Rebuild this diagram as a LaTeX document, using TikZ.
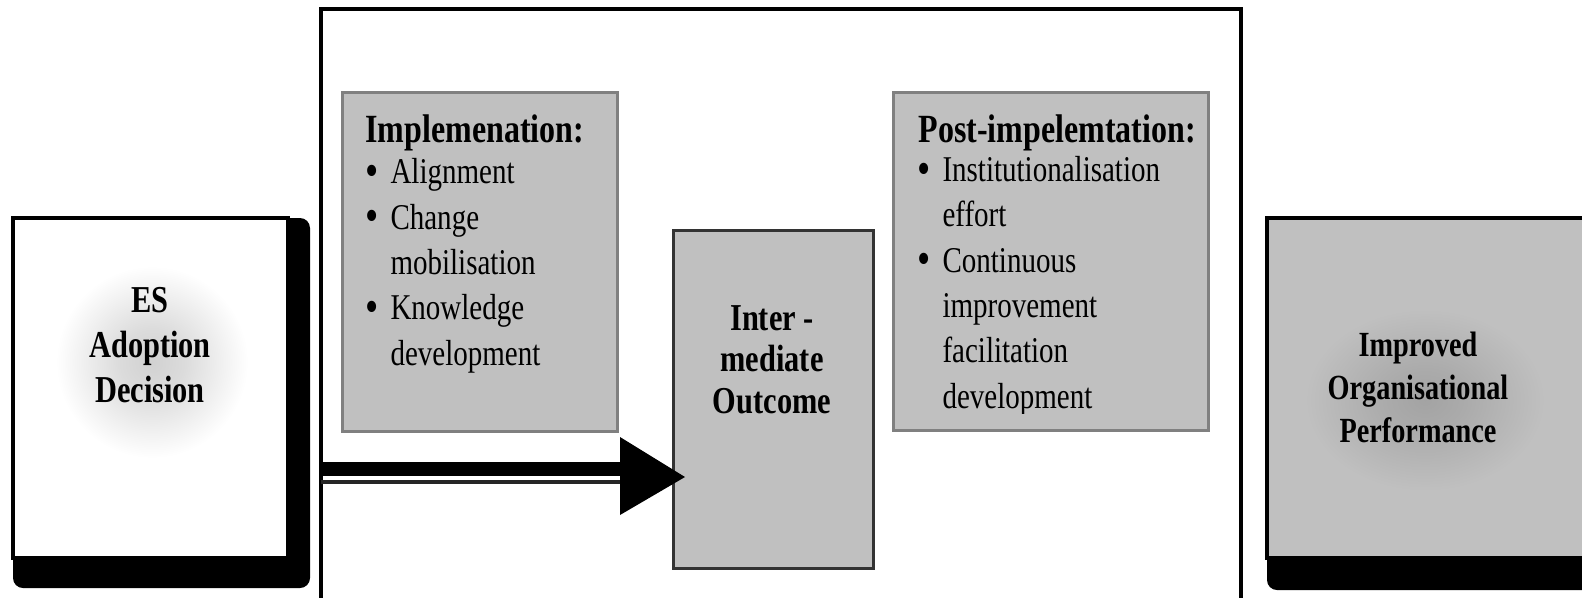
\documentclass[tikz,border=0pt]{standalone}
\usepackage{fontspec}
\setmainfont[FakeStretch=0.8]{Liberation Serif}
\usetikzlibrary{calc}

\definecolor{boxgray}{RGB}{192,192,192}
\definecolor{rimgray}{RGB}{128,128,128}
\definecolor{darkrim}{RGB}{51,51,51}

% soft halo behind the bold labels
\pgfdeclareradialshading{whiteglow}{\pgfpoint{0bp}{0bp}}{color(0bp)=(black!18); color(2.7bp)=(black!14); color(8bp)=(white); color(50bp)=(white)}
\pgfdeclareradialshading{grayglow}{\pgfpoint{0bp}{0bp}}{color(0bp)=(black!36); color(2.7bp)=(black!33); color(8bp)=(boxgray); color(50bp)=(boxgray)}

\tikzset{every picture/.style={line width=0.75pt}}
\tikzset{
  drop shade/.style={fill=black, rounded corners=7.5pt},
  stage box/.style={fill=boxgray, draw=rimgray, line width=2.25pt},
  big label/.style={font=\bfseries\fontsize{28.5}{#1}\selectfont, align=center, inner sep=0pt, anchor=base},
  big label/.default=32,
  list head/.style={font=\bfseries\fontsize{30}{34}\selectfont, inner sep=0pt, anchor=base west},
  list body/.style={font=\fontsize{27.2}{34}\selectfont, align=left, inner sep=0pt, anchor=base west},
}
\newcommand{\itm}{\makebox[18.75pt][l]{\raisebox{-0.08em}{\scalebox{1.3}{\textbullet}}}}
\newcommand{\cnt}{\hspace*{18.75pt}}

\begin{document}
\begin{tikzpicture}[x=0.75pt,y=0.75pt,yscale=-1,xscale=1]
\useasboundingbox (0,0) rectangle (1582,597);
\clip (0,0) rectangle (1582,597);

%Shape: Rectangle (outer frame)
\draw [line width=3pt] (321,9) rectangle (1241,640) ;

%Shape: Shadow + Rectangle (left)
\fill [drop shade] (13,218) rectangle (310,588) ;
\fill [white] (13,218) rectangle (288,558) ;
\begin{scope}
\clip (15,220) rectangle (286,556) ;
\fill [shading=whiteglow] (152,362) circle (300) ;
\end{scope}
\draw [line width=3pt] (13,218) rectangle (288,558) ;

%Shape: Shadow + Rectangle (right)
\fill [drop shade] (1267,218) rectangle (1620,590) ;
\fill [boxgray] (1267,218) rectangle (1620,558) ;
\begin{scope}
\clip (1269,220) rectangle (1582,556) ;
\fill [shading=grayglow] (1425,400) ellipse (375 and 285) ;
\end{scope}
\draw [line width=3pt] (1267,218) rectangle (1620,558) ;

%Shape: Rectangle (stages)
\draw [stage box] (342,92) rectangle (617,431) ;
\draw [stage box] (893,92) rectangle (1208,430) ;

%Shape: Rectangle (middle)
\draw [fill=boxgray, draw=darkrim, line width=2.25pt] (673,230) rectangle (873,568) ;

%Straight Lines (arrow into the middle box)
\coordinate (tail) at (321,477) ;
\coordinate (base) at (620,477) ;
\coordinate (tip) at (685,477) ;
\draw [line width=10.5pt] ($(tail)+(0,-8)$) -- ($(base)+(0,-8)$) ;
\draw [line width=3pt, color=black!85] ($(tail)+(0,5)$) -- ($(base)+(0,5)$) ;
\fill (tip) -- ($(base)+(0,-40)$) -- ($(base)+(0,38)$) -- cycle ;

% Text Node
\node [big label=33.4] (es) at (150,402) {ES\\Adoption\\Decision};
% Text Node
\node [big label=31.1] (outcome) at (772,413) {Inter -\\mediate\\Outcome};
% Text Node
\node [big label=31.9, font=\bfseries\fontsize{26.5}{31.9}\selectfont] (perf) at (1418,442) {Improved\\Organisational\\Performance};

% Text Node
\node [list head] (implhead) at (365,142) {Implemenation:};
\node [list body] (impl) at (365,365) {\itm Alignment\\ \itm Change\\ \cnt mobilisation\\ \itm Knowledge\\ \cnt development};

% Text Node
\node [list head] (posthead) at (918,142) {Post-impelemtation:};
\begin{scope}
\clip (893,92) rectangle (1208,413) ;
\node [list body] (post) at (917,408) {\itm Institutionalisation\\ \cnt effort\\ \itm Continuous\\ \cnt improvement\\ \cnt facilitation\\ \cnt development};
\end{scope}

\end{tikzpicture}
\end{document}
